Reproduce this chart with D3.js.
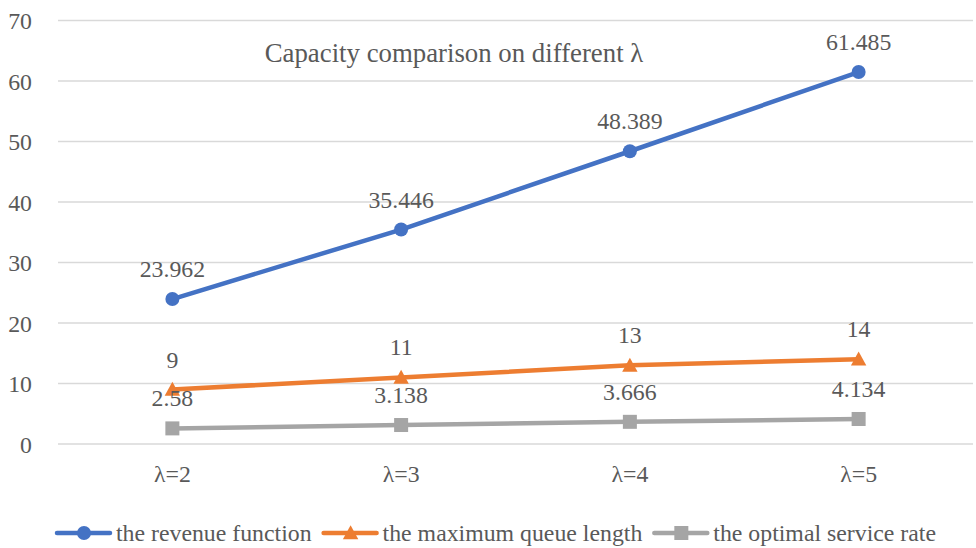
<!DOCTYPE html>
<html>
<head>
<meta charset="utf-8">
<script src="https://cdn.jsdelivr.net/npm/d3@7"></script>
</head>
<body style="margin:0;background:#fff">
<div id="chart"></div>
<script>
var CATEGORIES = ["λ=2", "λ=3", "λ=4", "λ=5"];
var REVENUE = [23.962, 35.446, 48.389, 61.485];
var QUEUE = [9, 11, 13, 14];
var SERVICE = [2.58, 3.138, 3.666, 4.134];
var Y_TICKS = [0, 10, 20, 30, 40, 50, 60, 70];
var SERIES_NAMES = ["the revenue function", "the maximum queue length", "the optimal service rate"];
var TITLE = "Capacity comparison on different λ";

(function () {
  "use strict";
  var W = 976, H = 548, TXT = "#595959", GRID = "#d9d9d9";
  var COLORS = ["#4472C4", "#ED7D31", "#A5A5A5"];
  var FONT = "'Liberation Serif', 'Times New Roman', serif";
  var FS = 23.8;
  var series = [REVENUE, QUEUE, SERVICE].map(function (v, i) {
    return { name: SERIES_NAMES[i], values: v, color: COLORS[i], shape: ["circle", "triangle", "square"][i] };
  });

  var svg = d3.select("#chart").append("svg").attr("width", W).attr("height", H).style("display", "block");
  var x = d3.scaleBand().domain(CATEGORIES).range([58, 973]);
  var y = d3.scaleLinear().domain([0, 70]).range([444, 20.5]);
  function cx(i) { return x(CATEGORIES[i]) + x.bandwidth() / 2; }
  function txt(sel, fs) {
    return sel.attr("fill", TXT).attr("font-family", FONT).attr("font-size", fs || FS)
      .style("font-family", FONT).style("font-size", (fs || FS) + "px");
  }

  // gridlines + y tick labels
  svg.append("g").selectAll("line").data(Y_TICKS).enter().append("line")
    .attr("x1", 58).attr("x2", 973).attr("y1", function (d) { return y(d); }).attr("y2", function (d) { return y(d); })
    .attr("stroke", GRID).attr("stroke-width", 1.3);
  txt(svg.append("g").selectAll("text").data(Y_TICKS).enter().append("text")
    .attr("x", 32).attr("y", function (d) { return y(d) + 8.5; }).attr("text-anchor", "end"))
    .text(function (d) { return d; });

  // category labels
  txt(svg.append("g").selectAll("text").data(CATEGORIES).enter().append("text")
    .attr("x", function (d, i) { return cx(i); }).attr("y", 482).attr("text-anchor", "middle"))
    .text(function (d) { return d; });

  // title
  txt(svg.append("text").attr("x", 454).attr("y", 62).attr("text-anchor", "middle"), 26.8).text(TITLE);

  function marker(g, shape, px, py, color, s) {
    if (shape === "circle") {
      g.append("circle").attr("cx", px).attr("cy", py).attr("r", s * 0.5).attr("fill", color);
    } else if (shape === "triangle") {
      g.append("path").attr("d", "M" + px + "," + (py - s * 0.55) + "L" + (px + s * 0.55) + "," + (py + s * 0.45) +
        "L" + (px - s * 0.55) + "," + (py + s * 0.45) + "Z").attr("fill", color);
    } else {
      g.append("rect").attr("x", px - s / 2).attr("y", py - s / 2).attr("width", s).attr("height", s).attr("fill", color);
    }
  }

  var line = d3.line().x(function (d, i) { return cx(i); }).y(function (d) { return y(d); });
  // draw lines bottom-up so blue sits on top
  series.slice().reverse().forEach(function (s) {
    var g = svg.append("g");
    g.append("path").attr("d", line(s.values)).attr("fill", "none").attr("stroke", s.color)
      .attr("stroke-width", 4.5).attr("stroke-linecap", "round").attr("stroke-linejoin", "round");
    s.values.forEach(function (v, i) { marker(g, s.shape, cx(i), y(v), s.color, 14); });
  });
  // data labels
  series.forEach(function (s) {
    txt(svg.append("g").selectAll("text").data(s.values).enter().append("text")
      .attr("x", function (d, i) { return cx(i); }).attr("y", function (d) { return y(d) - 22; })
      .attr("text-anchor", "middle"))
      .text(function (d) { return d; });
  });

  // legend
  var lx = 55, ly = 533;
  series.forEach(function (s) {
    var g = svg.append("g");
    g.append("line").attr("x1", lx + 2).attr("x2", lx + 55).attr("y1", ly).attr("y2", ly)
      .attr("stroke", s.color).attr("stroke-width", 4.5).attr("stroke-linecap", "round");
    marker(g, s.shape, lx + 29, ly, s.color, 14);
    var t = txt(g.append("text").attr("x", lx + 61).attr("y", ly + 8)).text(s.name);
    lx += 61 + t.node().getComputedTextLength() + 10;
  });
})();
</script>
</body>
</html>
